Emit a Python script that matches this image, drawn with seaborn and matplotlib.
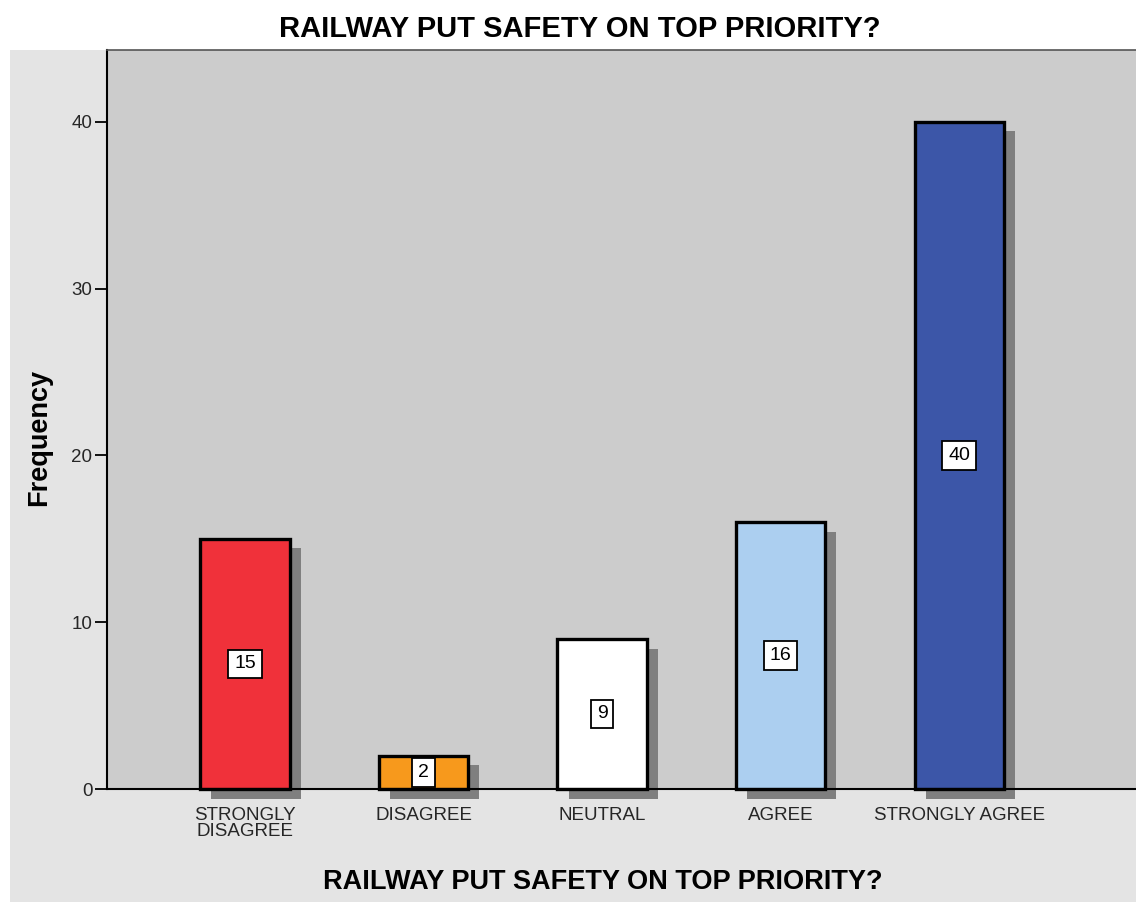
import matplotlib
matplotlib.use("Agg")
import matplotlib.pyplot as plt
import matplotlib.patheffects as pe
from matplotlib.patches import Rectangle
import seaborn as sns
import pandas as pd

categories = ["STRONGLY DISAGREE", "DISAGREE", "NEUTRAL", "AGREE", "STRONGLY AGREE"]
tick_labels = ["STRONGLY\nDISAGREE", "DISAGREE", "NEUTRAL", "AGREE", "STRONGLY AGREE"]
values = [15, 2, 9, 16, 40]
colors = ["#f0313a", "#f7991c", "#ffffff", "#accff0", "#3c56a8"]
y_ticks = [0, 10, 20, 30, 40]
title = "RAILWAY PUT SAFETY ON TOP PRIORITY?"

sns.set_theme(style="white")
plt.rcParams["font.family"] = ["Liberation Sans", "DejaVu Sans"]

df = pd.DataFrame({"cat": categories, "val": values})

fig = plt.figure(figsize=(11.36, 9.02), dpi=100)
fig.patch.set_facecolor("white")
fig.patches.append(Rectangle((10 / 1136, 0), 1 - 10 / 1136, 1 - 50 / 902,
                             transform=fig.transFigure, facecolor="#e4e4e4",
                             edgecolor="none", zorder=-10))

ax = fig.add_axes([107 / 1136, (902 - 789) / 902, 1 - 107 / 1136, (789 - 50) / 902])
ax.set_facecolor("#cccccc")

sns.barplot(data=df, x="cat", y="val", hue="cat", palette=colors, width=0.5,
            legend=False, ax=ax, edgecolor="black", linewidth=2.4, saturation=1)

for p in ax.patches:
    p.set_clip_on(False)
    p.set_path_effects([pe.SimplePatchShadow(offset=(8, -7), shadow_rgbFace="#7f7f7f", alpha=1),
                        pe.Normal()])

for i, v in enumerate(values):
    ax.text(i, v / 2, str(v), ha="center", va="center", fontsize=14, color="black",
            bbox=dict(boxstyle="square,pad=0.3", fc="white", ec="black", lw=1.3), zorder=5)

ax.set_xlim(-0.773, 4.99)
ax.set_ylim(0, 44.3)
ax.set_yticks(y_ticks)
ax.set_yticklabels([str(t) for t in y_ticks])
ax.set_xticks(range(len(tick_labels)))
ax.set_xticklabels(tick_labels, linespacing=0.95)

ax.tick_params(axis="y", direction="out", length=9, width=1.3, color="black",
               pad=1.5, labelsize=13.5, left=True)
ax.tick_params(axis="x", direction="out", length=3, width=1, color="black",
               pad=10, labelsize=13.5, bottom=True)

for s in ["left", "bottom"]:
    ax.spines[s].set_color("black")
    ax.spines[s].set_linewidth(1.5)
ax.spines["top"].set_color("#555555")
ax.spines["top"].set_linewidth(1.2)
ax.spines["right"].set_visible(False)

ax.set_ylabel("Frequency", fontsize=19.5, fontweight="bold", color="black")
ax.yaxis.set_label_coords(-0.0535, 0.476)
ax.set_xlabel(title, fontsize=19.5, fontweight="bold", color="black")
ax.xaxis.set_label_coords(0.482, -0.108)

fig.text(580 / 1136, 1 - 37 / 902, title, ha="center", va="baseline",
         fontsize=21, fontweight="bold", color="black")

fig.savefig("out.png", dpi=100)
